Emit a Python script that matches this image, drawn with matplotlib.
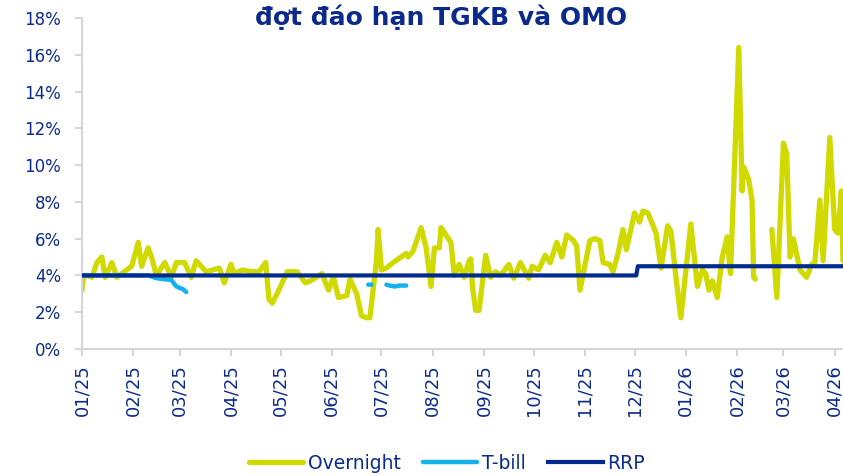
import numpy as np
import pandas as pd
import matplotlib
matplotlib.use("Agg")
import matplotlib.pyplot as plt
import matplotlib.dates as mdates
from matplotlib.ticker import FuncFormatter

# ---------------- data ----------------
overnight_dates = [
    "2025-01-01", "2025-01-02", "2025-01-04", "2025-01-07", "2025-01-10", "2025-01-13",
    "2025-01-15", "2025-01-19", "2025-01-22", "2025-01-25", "2025-01-31", "2025-02-04",
    "2025-02-06", "2025-02-10", "2025-02-12", "2025-02-15", "2025-02-20", "2025-02-24",
    "2025-02-27", "2025-03-04", "2025-03-08", "2025-03-11", "2025-03-17", "2025-03-21",
    "2025-03-25", "2025-03-28", "2025-04-01", "2025-04-03", "2025-04-08", "2025-04-14",
    "2025-04-18", "2025-04-22", "2025-04-24", "2025-04-26", "2025-04-30", "2025-05-05",
    "2025-05-11", "2025-05-16", "2025-05-20", "2025-05-26", "2025-05-30", "2025-06-02",
    "2025-06-05", "2025-06-10", "2025-06-12", "2025-06-16", "2025-06-19", "2025-06-22",
    "2025-06-24", "2025-06-28", "2025-06-29", "2025-07-01", "2025-07-04", "2025-07-08",
    "2025-07-16", "2025-07-17", "2025-07-20", "2025-07-25", "2025-07-28", "2025-07-31",
    "2025-08-02", "2025-08-05", "2025-08-06", "2025-08-12", "2025-08-14", "2025-08-17",
    "2025-08-20", "2025-08-23", "2025-08-24", "2025-08-25", "2025-08-27", "2025-08-29",
    "2025-09-02", "2025-09-05", "2025-09-08", "2025-09-11", "2025-09-16", "2025-09-19",
    "2025-09-23", "2025-09-28", "2025-09-30", "2025-10-04", "2025-10-08", "2025-10-11",
    "2025-10-15", "2025-10-18", "2025-10-21", "2025-10-25", "2025-10-27", "2025-10-29",
    "2025-11-02", "2025-11-04", "2025-11-07", "2025-11-10", "2025-11-12", "2025-11-16",
    "2025-11-18", "2025-11-21", "2025-11-24", "2025-11-26", "2025-12-01", "2025-12-04",
    "2025-12-06", "2025-12-09", "2025-12-14", "2025-12-17", "2025-12-21", "2025-12-23",
    "2025-12-26", "2025-12-29", "2025-12-31", "2026-01-04", "2026-01-08", "2026-01-11",
    "2026-01-13", "2026-01-15", "2026-01-17", "2026-01-20", "2026-01-23", "2026-01-26",
    "2026-01-28", "2026-02-02", "2026-02-04", "2026-02-05", "2026-02-08", "2026-02-10",
    "2026-02-11", "2026-02-12", "2026-02-16", "2026-02-22", "2026-02-25", "2026-03-01",
    "2026-03-03", "2026-03-05", "2026-03-07", "2026-03-11", "2026-03-15", "2026-03-18",
    "2026-03-20", "2026-03-23", "2026-03-25", "2026-03-29", "2026-04-01", "2026-04-03",
    "2026-04-05", "2026-04-06",
]
overnight_values = [
    3.2, 4.0, 4.0, 3.9, 4.7, 5.0,
    3.9, 4.7, 3.9, 4.1, 4.5, 5.8,
    4.5, 5.5, 5.0, 4.0, 4.7, 3.9,
    4.7, 4.7, 3.9, 4.8, 4.2, 4.3,
    4.4, 3.6, 4.6, 4.1, 4.3, 4.2,
    4.2, 4.7, 2.7, 2.5, 3.2, 4.2,
    4.2, 3.6, 3.75, 4.1, 3.2, 3.9,
    2.8, 2.9, 3.8, 3.0, 1.8, 1.7,
    1.7, 4.8, 6.5, 4.3, 4.4, 4.7,
    5.2, 5.0, 5.3, 6.6, 5.5, 3.4,
    5.5, 5.5, 6.6, 5.8, 4.0, 4.6,
    3.9, 4.8, 4.9, 3.4, 2.1, 2.1,
    5.1, 3.9, 4.2, 4.0, 4.6, 3.85,
    4.7, 3.85, 4.5, 4.3, 5.1, 4.7,
    5.8, 5.0, 6.2, 5.9, 5.6, 3.2,
    5.0, 5.9, 6.0, 5.9, 4.7, 4.6,
    4.2, 5.2, 6.5, 5.4, 7.4, 6.9,
    7.5, 7.4, 6.3, 4.4, 6.7, 6.4,
    3.9, 1.7, 3.4, 6.8, 3.4, 4.3,
    4.1, 3.2, 3.7, 2.8, 5.0, 6.1,
    4.1, 16.4, 8.6, 9.9, 9.2, 8.1,
    3.9, 3.8, np.nan, 6.5, 2.8, 11.2,
    10.6, 5.0, 6.0, 4.3, 3.9, 4.6,
    4.7, 8.1, 4.8, 11.5, 6.5, 6.3,
    8.6, 4.8,
]

tbill_dates = [
    "2025-01-02", "2025-01-20", "2025-02-10", "2025-02-15", "2025-02-24",
    "2025-02-27", "2025-03-03", "2025-03-05", "2025-03-10",
    "2025-06-23", "2025-06-25", "2025-06-28",
    "2025-07-04", "2025-07-06", "2025-07-09", "2025-07-12", "2025-07-16",
]
tbill_values = [
    4.0, 4.0, 4.0, 3.85, 3.75,
    3.4, 3.25, 3.1, np.nan,
    3.5, 3.5, np.nan,
    3.5, 3.45, 3.4, 3.45, 3.45,
]

rrp_dates = ["2025-01-01", "2025-12-02", "2025-12-03", "2026-04-07"]
rrp_values = [4.0, 4.0, 4.5, 4.5]

x_start, x_end = "2025-01-01", "2026-04-06"
y_ticks = list(range(0, 19, 2))

title_text = "đợt đáo hạn TGKB và OMO"
series_names = ["Overnight", "T-bill", "RRP"]

# ---------------- style ----------------
c_over = "#d0da00"
c_tbill = "#14b1ea"
c_rrp = "#032a8e"
c_text = "#0c2a8c"
c_axis = "#d6d6d6"

plt.rcParams["font.family"] = ["DejaVu Sans"]

fig = plt.figure(figsize=(8.43, 4.76), dpi=100)
ax = fig.add_axes([0.0973, 0.2668, 0.9027, 0.6954])

ax.plot(pd.to_datetime(overnight_dates), overnight_values, color=c_over, lw=3.8,
        solid_joinstyle="round", solid_capstyle="round", label=series_names[0], zorder=2)
ax.plot(pd.to_datetime(tbill_dates), tbill_values, color=c_tbill, lw=3.2,
        solid_joinstyle="round", solid_capstyle="round", label=series_names[1], zorder=3)
ax.plot(pd.to_datetime(rrp_dates), rrp_values, color=c_rrp, lw=3.0,
        solid_joinstyle="round", label=series_names[2], zorder=4)

ax.set_xlim(pd.Timestamp(x_start), pd.Timestamp(x_end))
ax.set_ylim(0, 18)
ax.set_yticks(y_ticks)
ax.yaxis.set_major_formatter(FuncFormatter(lambda v, p: f"{int(v)}%"))
ax.xaxis.set_major_locator(mdates.MonthLocator())
ax.xaxis.set_major_formatter(mdates.DateFormatter("%m/%y"))

for s in ["top", "right"]:
    ax.spines[s].set_visible(False)
for s in ["left", "bottom"]:
    ax.spines[s].set_color(c_axis)
    ax.spines[s].set_linewidth(1.5)
ax.tick_params(axis="both", colors=c_axis, width=1.5, length=5)
ax.tick_params(axis="y", labelcolor=c_text, labelsize=12, pad=10)
ax.tick_params(axis="x", labelcolor=c_text, labelsize=13, labelrotation=90, pad=6)

fig.text(0.523, 0.963, title_text, ha="center", va="center", fontsize=18,
         fontweight="bold", color=c_text)

leg = fig.legend(loc="center", bbox_to_anchor=(0.53, 0.027), ncol=3, frameon=False,
                 fontsize=13.5, handlelength=2.9, columnspacing=1.2, handletextpad=0.25)
for t in leg.get_texts():
    t.set_color(c_text)

fig.savefig("out.png", dpi=100)
